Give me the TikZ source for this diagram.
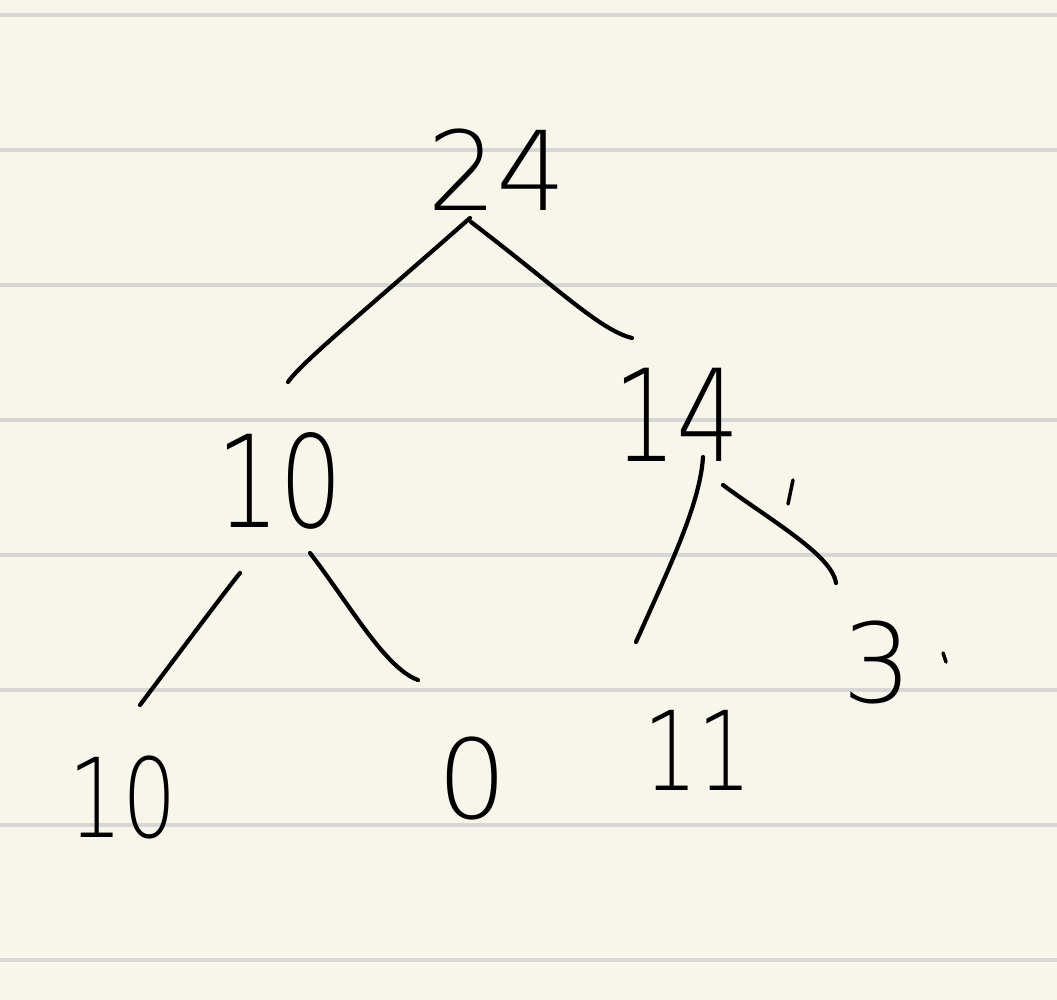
\documentclass[tikz,border=0pt]{standalone}
\usepackage{fontspec}
\newfontfamily\handfont{DejaVu Sans ExtraLight}
\newfontfamily\handnarrow{DejaVu Sans ExtraLight}[FakeStretch=0.78]
\definecolor{paper}{HTML}{F8F6EA}
\definecolor{rule}{HTML}{D6D6D4}
\begin{document}
\begin{tikzpicture}[x=1pt,y=-1pt,
  num/.style={inner sep=0pt,anchor=center,font=\handfont\fontsize{110}{110}\selectfont},
  numn/.style={inner sep=0pt,anchor=center,font=\handnarrow\fontsize{110}{110}\selectfont},
  numbig/.style={inner sep=0pt,anchor=center,font=\handnarrow\fontsize{128}{128}\selectfont},
  stroke/.style={line width=4.2pt,line cap=round,line join=round,black}]
\useasboundingbox (0,0) rectangle (1057,1000);
\fill[paper] (0,0) rectangle (1057,1000);
\foreach \y in {15,150,285,420,555,690,825,960}
  \draw[rule,line width=4pt] (0,\y) -- (1057,\y);
% nodes
\node[num] (n24) at (497,170) {24};
\node[numbig] (n10a) at (280,481) {10};
\node[numbig] (n14) at (677,415) {14};
\node[numn] (n10b) at (123,797) {10};
\node[num] (n0) at (472,778) {0};
\node[numn] (n11) at (698,750) {11};
\node[num] (n3) at (877,662) {3};
% connector ends
\coordinate (s1) at (470,218); \coordinate (e1) at (288,382);
\coordinate (s2) at (471,222); \coordinate (e2) at (632,338);
\coordinate (s3) at (240,573); \coordinate (e3) at (140,705);
\coordinate (s4) at (310,553); \coordinate (e4) at (418,680);
\coordinate (s5) at (703,457); \coordinate (e5) at (636,642);
\coordinate (s6) at (723,485); \coordinate (e6) at (836,583);
\draw[stroke] (s1) .. controls (360,315) and (302,362) .. (e1);
\draw[stroke] (s2) .. controls (560,290) and (600,330) .. (e2);
\draw[stroke] (s3) .. controls (230,585) and (170,665) .. (e3);
\draw[stroke] (s4) .. controls (350,605) and (385,668) .. (e4);
\draw[stroke] (s5) .. controls (700,505) and (668,570) .. (e5);
\draw[stroke] (s6) .. controls (770,520) and (832,555) .. (e6);
% small marks
\coordinate (t1) at (793,480); \coordinate (t2) at (788,504);
\draw[stroke,line width=3.5pt] (t1) -- (t2);
\coordinate (d1) at (943,653); \coordinate (d2) at (946,662);
\draw[stroke,line width=3.5pt] (d1) -- (d2);
\end{tikzpicture}
\end{document}
